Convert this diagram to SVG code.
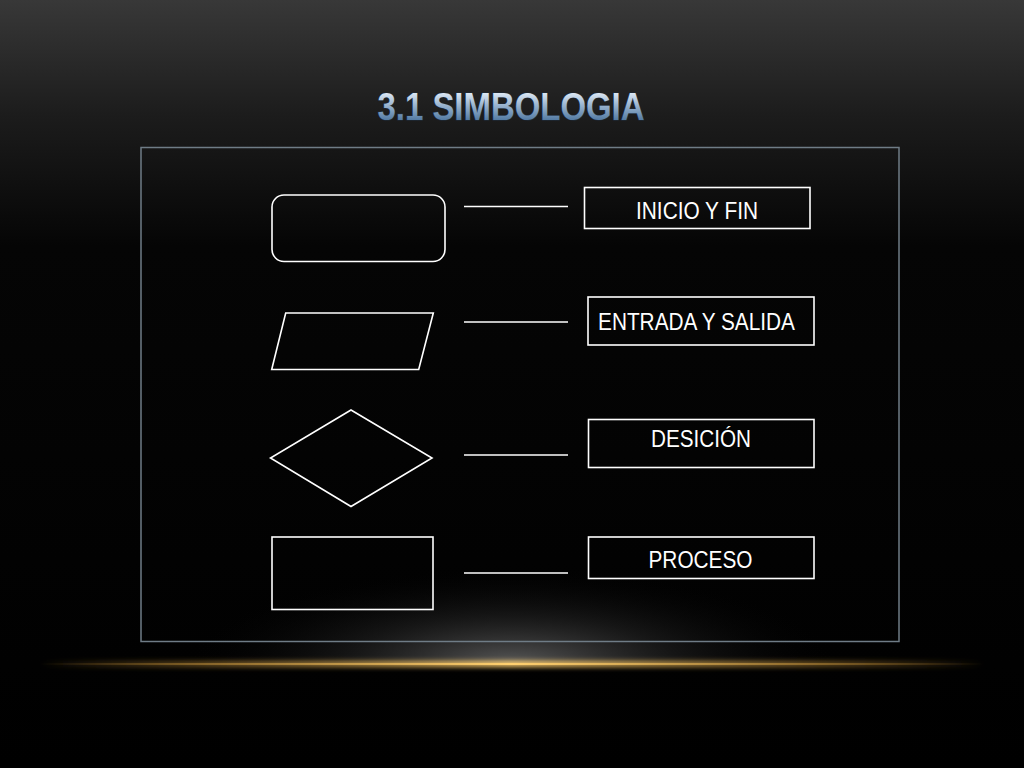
<svg xmlns="http://www.w3.org/2000/svg" width="1024" height="768" viewBox="0 0 1024 768">
<defs>
<linearGradient id="bg" x1="0" y1="0" x2="0" y2="1">
<stop offset="0" stop-color="#383838"/>
<stop offset="0.15" stop-color="#1c1c1c"/>
<stop offset="0.32" stop-color="#050505"/>
<stop offset="1" stop-color="#000"/>
</linearGradient>
<radialGradient id="glow" cx="512" cy="665" r="330" gradientUnits="userSpaceOnUse" gradientTransform="translate(0 665) scale(1 0.3) translate(0 -665)">
<stop offset="0" stop-color="#606060" stop-opacity="0.95"/>
<stop offset="0.5" stop-color="#2a2a2a" stop-opacity="0.5"/>
<stop offset="1" stop-color="#000" stop-opacity="0"/>
</radialGradient>
<linearGradient id="gold" x1="0" y1="0" x2="1" y2="0">
<stop offset="0" stop-color="#c89030" stop-opacity="0"/>
<stop offset="0.2" stop-color="#b88a3a" stop-opacity="0.6"/>
<stop offset="0.5" stop-color="#ffd070"/>
<stop offset="0.8" stop-color="#b88a3a" stop-opacity="0.6"/>
<stop offset="1" stop-color="#c89030" stop-opacity="0"/>
</linearGradient>
<linearGradient id="title" x1="0" y1="93" x2="0" y2="121" gradientUnits="userSpaceOnUse">
<stop offset="0" stop-color="#dce8f4"/>
<stop offset="0.4" stop-color="#9fb8d2"/>
<stop offset="1" stop-color="#4f77a0"/>
</linearGradient>
<filter id="blur" x="-10%" y="-200%" width="120%" height="500%"><feGaussianBlur stdDeviation="2.5"/></filter>
</defs>
<style>
.shape{fill:none;stroke:#ffffff;stroke-width:1.6}
.conn{stroke:#ffffff;stroke-width:1.3}
.lbl{fill:none;stroke:#ffffff;stroke-width:1.6}
.txt{font-family:"Liberation Sans Narrow","Liberation Sans",Arial,sans-serif;font-size:23px;fill:#ffffff;text-anchor:middle}
.title{font-family:"Liberation Sans",Arial,sans-serif;font-weight:700;font-size:38px;text-anchor:middle}
</style>
<rect width="1024" height="768" fill="url(#bg)"/>
<rect x="100" y="540" width="824" height="124" fill="url(#glow)"/>
<rect x="40" y="661" width="944" height="6" fill="url(#gold)" filter="url(#blur)"/>
<rect x="40" y="663" width="944" height="2" fill="url(#gold)"/>
<text class="title" x="511" y="120" textLength="267" lengthAdjust="spacingAndGlyphs" fill="url(#title)" stroke="#1e2c3c" stroke-width="1.2" paint-order="stroke">3.1 SIMBOLOGIA</text>
<rect x="141" y="147.5" width="758" height="494" fill="none" stroke="#6f7c86" stroke-width="1.5"/>
<g id="connectors">
<line class="conn" x1="464" y1="206.5" x2="568" y2="206.5"/>
<line class="conn" x1="464" y1="322" x2="568" y2="322"/>
<line class="conn" x1="464" y1="455" x2="568" y2="455"/>
<line class="conn" x1="464" y1="573" x2="568" y2="573"/>
</g>
<g id="sym-inicio"><rect class="shape" x="272" y="195" width="173" height="66.5" rx="12"/></g>
<g id="sym-entrada"><polygon class="shape" points="285.7,313 433.3,313 418.7,369.5 271.7,369.5"/></g>
<g id="sym-decision"><polygon class="shape" points="351,410 432,458 351,506.5 270.5,458"/></g>
<g id="sym-proceso"><rect class="shape" x="272" y="537" width="161" height="72.5"/></g>
<g id="lbl-inicio"><rect class="lbl" x="584.5" y="187.5" width="225.5" height="41"/><text class="txt" x="697" y="218.5" textLength="122" lengthAdjust="spacingAndGlyphs">INICIO Y FIN</text></g>
<g id="lbl-entrada"><rect class="lbl" x="588" y="297" width="226" height="48"/><text class="txt" x="696.5" y="329.5" textLength="197" lengthAdjust="spacingAndGlyphs">ENTRADA Y SALIDA</text></g>
<g id="lbl-decision"><rect class="lbl" x="588.5" y="419.5" width="225.5" height="48"/><text class="txt" x="701" y="447" textLength="100" lengthAdjust="spacingAndGlyphs">DESICIÓN</text></g>
<g id="lbl-proceso"><rect class="lbl" x="588.5" y="537" width="225.5" height="41.5"/><text class="txt" x="700.5" y="567.5" textLength="104" lengthAdjust="spacingAndGlyphs">PROCESO</text></g>
</svg>
